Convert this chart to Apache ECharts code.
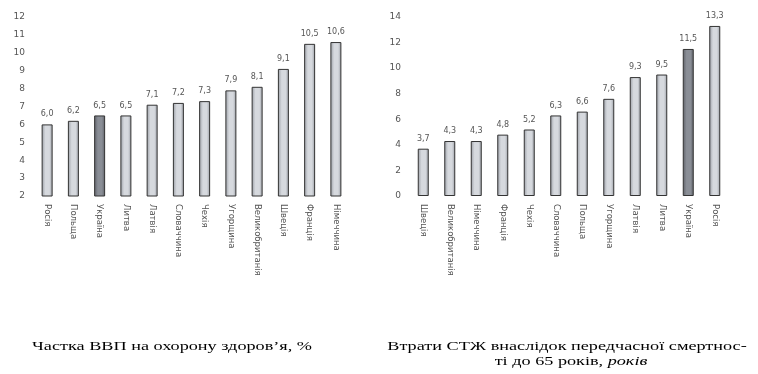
<!DOCTYPE html>
<html>
<head>
<meta charset="utf-8">
<script src="https://cdn.jsdelivr.net/npm/echarts@6/dist/echarts.min.js"></script>
<style>
  html, body { margin: 0; padding: 0; background: #fff; }
  #chart { width: 758px; height: 374px; }
</style>
</head>
<body>
<div id="chart"></div>
<script>
// Health expenditure share of GDP, %
const gdpCountries = ['Росія', 'Польща', 'Україна', 'Литва', 'Латвія', 'Словаччина', 'Чехія', 'Угорщина', 'Великобританія', 'Швеція', 'Франція', 'Німеччина'];
const gdpValues = [6.0, 6.2, 6.5, 6.5, 7.1, 7.2, 7.3, 7.9, 8.1, 9.1, 10.5, 10.6];

// Life-years lost to premature mortality before 65
const lossCountries = ['Швеція', 'Великобританія', 'Німеччина', 'Франція', 'Чехія', 'Словаччина', 'Польща', 'Угорщина', 'Латвія', 'Литва', 'Україна', 'Росія'];
const lossValues = [3.7, 4.3, 4.3, 4.8, 5.2, 6.3, 6.6, 7.6, 9.3, 9.5, 11.5, 13.3];

const highlight = 'Україна';

function barFill(dark) {
  const edge = dark ? '#5e6168' : '#9a9ea5';
  const mid = dark ? '#8a8e96' : '#d6d9de';
  return new echarts.graphic.LinearGradient(0, 0, 1, 0, [
    { offset: 0, color: edge },
    { offset: 0.35, color: mid },
    { offset: 0.7, color: mid },
    { offset: 1, color: edge }
  ]);
}

function barData(names, values) {
  return values.map((v, i) => ({
    value: v,
    itemStyle: { color: barFill(names[i] === highlight) }
  }));
}

const axisText = { color: '#555', fontFamily: 'DejaVu Sans', fontSize: 9 };

function catAxis(idx, names) {
  return {
    type: 'category', gridIndex: idx, data: names,
    axisLine: { show: false }, axisTick: { show: false },
    axisLabel: Object.assign({}, axisText, { fontSize: 8.5, rotate: -90, interval: 0, margin: 8 })
  };
}
function valAxis(idx, min, max, interval) {
  return {
    type: 'value', gridIndex: idx, min: min, max: max, interval: interval,
    axisLine: { show: false }, axisTick: { show: false }, splitLine: { show: false },
    axisLabel: Object.assign({}, axisText, { margin: 9 })
  };
}
function barSeries(idx, names, values) {
  return {
    type: 'bar', xAxisIndex: idx, yAxisIndex: idx,
    data: barData(names, values), barWidth: 11,
    itemStyle: { borderColor: '#333', borderWidth: 1 },
    label: {
      show: true, position: 'top', distance: 6,
      color: '#555', fontFamily: 'DejaVu Sans', fontSize: 8,
      formatter: p => p.value.toFixed(1).replace('.', ',')
    }
  };
}

// Captions are set in a wide serif face
const captionFont = { fontFamily: 'Liberation Serif', fontSize: 13, color: '#222' };
const captionScale = 1.4;

const chart = echarts.init(document.getElementById('chart'));
chart.setOption({
  animation: false,
  backgroundColor: '#fff',
  grid: [
    { left: 34, top: 17, width: 315, bottom: 178 },
    { left: 410, top: 17, width: 318, bottom: 178 }
  ],
  xAxis: [catAxis(0, gdpCountries), catAxis(1, lossCountries)],
  yAxis: [valAxis(0, 2, 12, 1), valAxis(1, 0, 14, 2)],
  series: [barSeries(0, gdpCountries, gdpValues), barSeries(1, lossCountries, lossValues)],
  graphic: [
    {
      type: 'text', x: 172, y: 347, scaleX: captionScale,
      style: Object.assign({ text: 'Частка ВВП на охорону здоров\u2019я, %', align: 'center', verticalAlign: 'middle' }, captionFont)
    },
    {
      type: 'text', x: 567, y: 347, scaleX: captionScale,
      style: Object.assign({ text: 'Втрати СТЖ внаслідок передчасної смертнос-', align: 'center', verticalAlign: 'middle' }, captionFont)
    },
    {
      type: 'text', x: 571, y: 362, scaleX: captionScale,
      style: Object.assign({
        text: '{n|ті до 65 років, }{i|років}', align: 'center', verticalAlign: 'middle',
        rich: {
          n: captionFont,
          i: Object.assign({ fontStyle: 'italic' }, captionFont)
        }
      }, captionFont)
    }
  ]
});
</script>
</body>
</html>
